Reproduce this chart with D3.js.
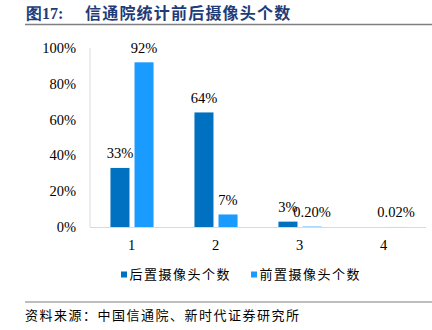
<!DOCTYPE html>
<html>
<head>
<meta charset="utf-8">
<script src="https://cdn.jsdelivr.net/npm/d3@7"></script>
<style>
  html, body { margin: 0; padding: 0; background: #fff; }
  svg { display: block; }
</style>
</head>
<body>
<svg id="chart" width="432" height="330"></svg>
<script>
// Camera counts per phone (share of models), rear vs front
const categories = ["1", "2", "3", "4"];
const seriesNames = ["后置摄像头个数", "前置摄像头个数"];
const rearValues = [33, 64, 3, 0];
const frontValues = [92, 7, 0.20, 0.02];
const rearLabels = ["33%", "64%", "3%", ""];
const frontLabels = ["92%", "7%", "0.20%", "0.02%"];
const yTicks = [0, 20, 40, 60, 80, 100];
const colors = ["#0070C0", "#1A9BFF"];

const titleText = "图17:";
const titleMain = "信通院统计前后摄像头个数";
const sourceText = "资料来源：中国信通院、新时代证券研究所";

const svg = d3.select("#chart");
const serif = "'Liberation Serif', 'Times New Roman', serif";
const cjk = "'Noto Sans CJK SC', sans-serif";

// Header
svg.append("text")
  .attr("x", 26).attr("y", 19)
  .attr("font-family", serif).attr("font-weight", "bold")
  .attr("font-size", 16).attr("fill", "#1F3C78")
  .text(titleText);
svg.append("text")
  .attr("x", 85).attr("y", 19)
  .attr("font-family", cjk).attr("font-weight", "bold")
  .attr("font-size", 16).attr("letter-spacing", 1.2).attr("fill", "#1F3C78")
  .text(titleMain);
svg.append("line")
  .attr("x1", 25).attr("x2", 432).attr("y1", 24.5).attr("y2", 24.5)
  .attr("stroke", "#7f7f7f").attr("stroke-width", 1.6);

// Plot scales
const plot = { left: 90, right: 426, top: 48, bottom: 227 };
const x0 = d3.scaleBand().domain(categories).range([plot.left, plot.right]).padding(0);
const x1 = d3.scaleBand().domain(seriesNames).range([0, x0.bandwidth()])
  .paddingInner(0.21).paddingOuter(0.85);
const y = d3.scaleLinear().domain([0, 100]).range([plot.bottom, plot.top]);

// Axes lines
svg.append("line")
  .attr("x1", plot.left).attr("x2", plot.left)
  .attr("y1", plot.top).attr("y2", plot.bottom)
  .attr("stroke", "#d9d9d9");
svg.append("line")
  .attr("x1", plot.left).attr("x2", plot.right)
  .attr("y1", plot.bottom + 0.5).attr("y2", plot.bottom + 0.5)
  .attr("stroke", "#d9d9d9");

// Y tick labels
svg.append("g").selectAll("text").data(yTicks).join("text")
  .attr("x", 76).attr("y", d => y(d) + 5)
  .attr("text-anchor", "end")
  .attr("font-family", serif).attr("font-size", 14.5).attr("fill", "#000")
  .text(d => d + "%");

// X tick labels
svg.append("g").selectAll("text").data(categories).join("text")
  .attr("x", d => x0(d) + x0.bandwidth() / 2 - 0.5).attr("y", 250)
  .attr("text-anchor", "middle")
  .attr("font-family", serif).attr("font-size", 14.5).attr("fill", "#000")
  .text(d => d);

// Bars
const series = [
  { name: seriesNames[0], values: rearValues, labels: rearLabels, color: colors[0] },
  { name: seriesNames[1], values: frontValues, labels: frontLabels, color: colors[1] }
];
series.forEach(s => {
  const g = svg.append("g");
  g.selectAll("rect").data(categories).join("rect")
    .attr("x", (c) => x0(c) + x1(s.name))
    .attr("width", x1.bandwidth())
    .attr("y", (c, i) => y(s.values[i]))
    .attr("height", (c, i) => y(0) - y(s.values[i]))
    .attr("fill", s.color);
  g.selectAll("text").data(categories).join("text")
    .attr("x", (c) => x0(c) + x1(s.name) + x1.bandwidth() / 2)
    .attr("y", (c, i) => y(s.values[i]) - 9.5)
    .attr("text-anchor", "middle")
    .attr("font-family", serif).attr("font-size", 14.5).attr("fill", "#000")
    .text((c, i) => s.labels[i]);
});

// Legend
const legendX = [121, 251];
series.forEach((s, i) => {
  svg.append("rect")
    .attr("x", legendX[i]).attr("y", 271.5)
    .attr("width", 6).attr("height", 6)
    .attr("fill", s.color);
  svg.append("text")
    .attr("x", legendX[i] + 8.5).attr("y", 279)
    .attr("font-family", cjk).attr("font-size", 13)
    .attr("letter-spacing", 1.5).attr("fill", "#000")
    .text(s.name);
});

// Footer
svg.append("line")
  .attr("x1", 25).attr("x2", 432).attr("y1", 302).attr("y2", 302)
  .attr("stroke", "#7f7f7f").attr("stroke-width", 1.2);
svg.append("text")
  .attr("x", 25).attr("y", 320)
  .attr("font-family", cjk).attr("font-size", 13)
  .attr("letter-spacing", 1.5).attr("fill", "#000")
  .text(sourceText);
</script>
</body>
</html>
